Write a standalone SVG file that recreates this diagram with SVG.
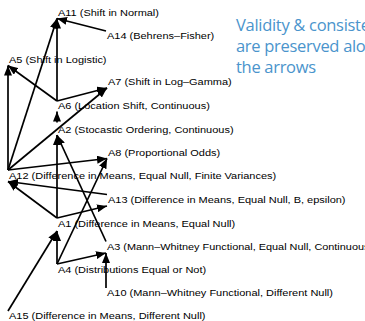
<svg xmlns="http://www.w3.org/2000/svg" width="365" height="321" viewBox="0 0 365 321">
<style>
.lbl{font-family:"Liberation Sans",Arial,sans-serif;font-size:9.15px;fill:#000}
.e{stroke:#000;stroke-width:1.7;fill:none;marker-end:url(#ah)}
.note{font-family:"Open Sans","Noto Sans",sans-serif;font-size:16.5px;letter-spacing:-0.3px;fill:#4a94cc}
</style>
<defs>
<marker id="ah" markerUnits="userSpaceOnUse" markerWidth="11" markerHeight="8" refX="10" refY="4" orient="auto">
<path d="M0,0 L10,4 L0,8 z" fill="#000"/>
</marker>
</defs>
<rect width="365" height="321" fill="#fff"/>
<g id="connectors">
<line class="e" x1="106" y1="31" x2="57" y2="18.5"/>
<line class="e" x1="57" y1="101" x2="57" y2="18.5"/>
<line class="e" x1="8" y1="170" x2="57" y2="18.5"/>
<line class="e" x1="8" y1="170" x2="8" y2="65.5"/>
<line class="e" x1="57" y1="101" x2="8" y2="65.5"/>
<line class="e" x1="57" y1="101" x2="107" y2="88"/>
<line class="e" x1="8" y1="170" x2="107" y2="88"/>
<line class="e" x1="57" y1="122.5" x2="57" y2="111.5"/>
<line class="e" x1="57" y1="218" x2="57" y2="135"/>
<line class="e" x1="106" y1="241.5" x2="57" y2="135"/>
<line class="e" x1="8" y1="170" x2="107" y2="158.5"/>
<line class="e" x1="57" y1="264" x2="107" y2="158.5"/>
<line class="e" x1="107" y1="194.5" x2="8" y2="181.5"/>
<line class="e" x1="57" y1="218" x2="8" y2="181.5"/>
<line class="e" x1="57" y1="218" x2="107" y2="206"/>
<line class="e" x1="57" y1="264" x2="106" y2="253"/>
<line class="e" x1="106" y1="288" x2="106" y2="253"/>
<line class="e" x1="8" y1="311" x2="57" y2="231"/>
<line class="e" x1="57" y1="264" x2="57" y2="231"/>
</g>
<g id="A11"><text class="lbl" transform="translate(58,15.5) scale(1.2,1)">A11 (Shift in Normal)</text></g>
<g id="A14"><text class="lbl" transform="translate(107,38.5) scale(1.2,1)">A14 (Behrens–Fisher)</text></g>
<g id="A5"><text class="lbl" transform="translate(9,62.5) scale(1.2,1)">A5 (Shift in Logistic)</text></g>
<g id="A7"><text class="lbl" transform="translate(108,85) scale(1.2,1)">A7 (Shift in Log–Gamma)</text></g>
<g id="A6"><text class="lbl" transform="translate(58,109) scale(1.2,1)">A6 (Location Shift, Continuous)</text></g>
<g id="A2"><text class="lbl" transform="translate(58,132.5) scale(1.2,1)">A2 (Stocastic Ordering, Continuous)</text></g>
<g id="A8"><text class="lbl" transform="translate(108,155.5) scale(1.2,1)">A8 (Proportional Odds)</text></g>
<g id="A12"><text class="lbl" transform="translate(9,179) scale(1.2,1)">A12 (Difference in Means, Equal Null, Finite Variances)</text></g>
<g id="A13"><text class="lbl" transform="translate(108,202.5) scale(1.2,1)">A13 (Difference in Means, Equal Null, B, epsilon)</text></g>
<g id="A1"><text class="lbl" transform="translate(58,226.5) scale(1.2,1)">A1 (Difference in Means, Equal Null)</text></g>
<g id="A3"><text class="lbl" transform="translate(107,249.5) scale(1.19,1)">A3 (Mann–Whitney Functional, Equal Null, Continuous)</text></g>
<g id="A4"><text class="lbl" transform="translate(58,272.5) scale(1.2,1)">A4 (Distributions Equal or Not)</text></g>
<g id="A10"><text class="lbl" transform="translate(107,296) scale(1.2,1)">A10 (Mann–Whitney Functional, Different Null)</text></g>
<g id="A15"><text class="lbl" transform="translate(9,319) scale(1.2,1)">A15 (Difference in Means, Different Null)</text></g>
<g id="note">
<text class="note" x="236" y="31">Validity &amp; consistency</text>
<text class="note" x="236" y="52">are preserved along</text>
<text class="note" x="236" y="73">the arrows</text>
</g>
</svg>
